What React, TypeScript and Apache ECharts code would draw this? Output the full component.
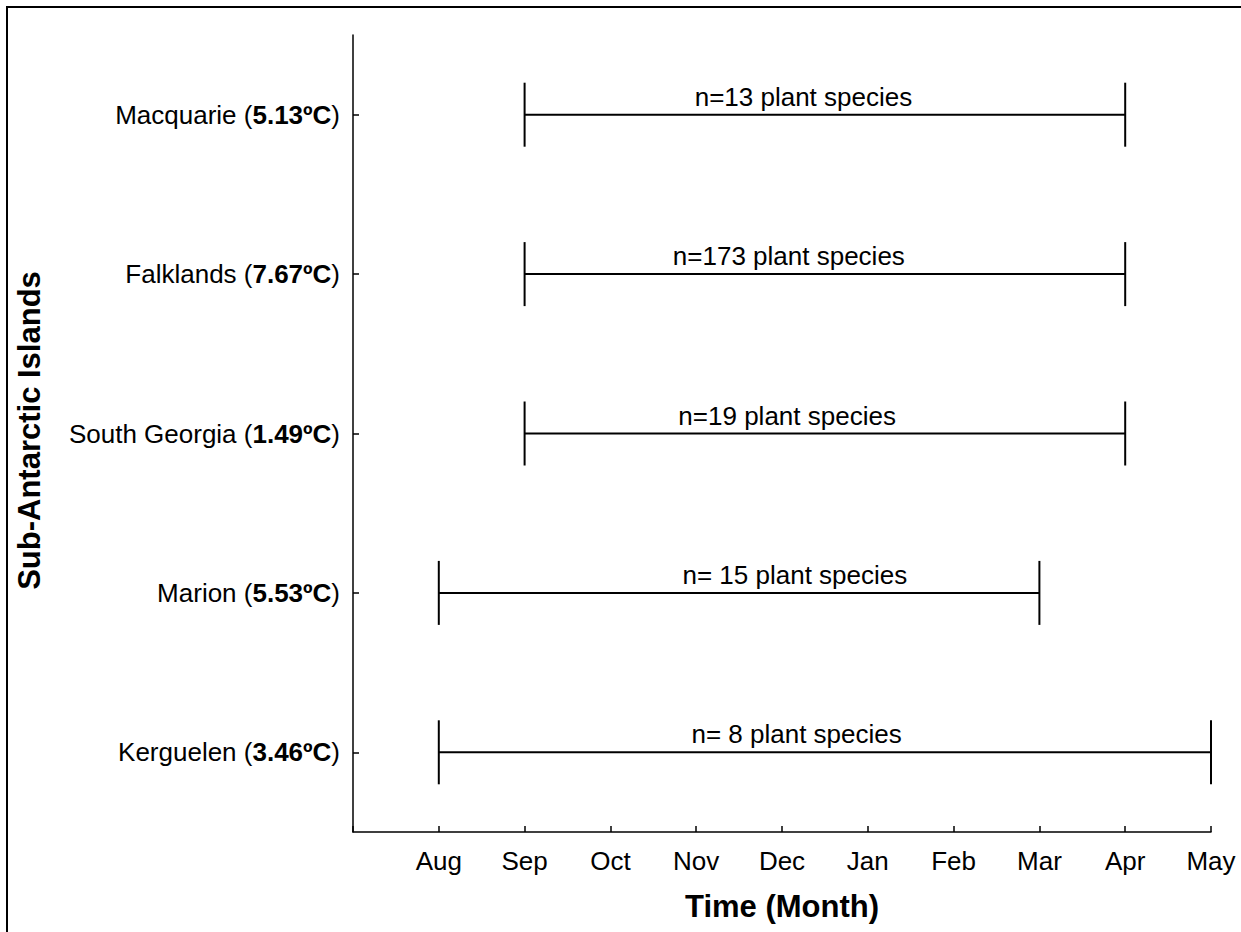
import React, { useEffect, useRef } from "react";
import * as echarts from "echarts";

const islands = ["Macquarie", "Falklands", "South Georgia", "Marion", "Kerguelen"];
const temperatures = ["5.13", "7.67", "1.49", "5.53", "3.46"];
const monthLabels = ["Jul", "Aug", "Sep", "Oct", "Nov", "Dec", "Jan", "Feb", "Mar", "Apr", "May"];
// start / end in month index (Jul = 0)
const startMonth = [2, 2, 2, 1, 1];
const endMonth = [9, 9, 9, 8, 10];
const speciesLabels = [
  "n=13 plant species",
  "n=173 plant species",
  "n=19 plant species",
  "n= 15 plant species",
  "n= 8 plant species",
];
const labelCenter = [5.25, 5.08, 5.06, 5.15, 5.17];

const FONT = "'Liberation Sans', Arial, Helvetica, sans-serif";

export default function App() {
  const ref = useRef<HTMLDivElement>(null);
  useEffect(() => {
    if (!ref.current) return;
    const chart = echarts.init(ref.current, null, { renderer: "svg" });
    const data = islands.map((_, i) => [i, startMonth[i], endMonth[i], labelCenter[i]]);
    chart.setOption({
      animation: false,
      backgroundColor: "#fff",
      textStyle: { fontFamily: FONT, color: "#000" },
      graphic: [
        {
          type: "rect",
          shape: { x: 7, y: 7, width: 1400, height: 1100 },
          style: { fill: "none", stroke: "#000", lineWidth: 2 },
          silent: true,
        },
      ],
      grid: { left: 353, right: 30, top: 35, bottom: 100, containLabel: false },
      xAxis: {
        type: "value",
        min: 0,
        max: 10,
        interval: 1,
        name: "Time (Month)",
        nameLocation: "middle",
        nameGap: 59,
        nameTextStyle: { fontFamily: FONT, fontSize: 31, fontWeight: "bold", color: "#000" },
        axisLine: { show: true, lineStyle: { color: "#000", width: 1.5 } },
        axisTick: { show: true, inside: true, length: 6, lineStyle: { color: "#000", width: 1.5 } },
        axisLabel: {
          fontFamily: FONT,
          fontSize: 26,
          color: "#000",
          margin: 16,
          formatter: (v: number) => (v === 0 ? "" : monthLabels[v] ?? ""),
        },
        splitLine: { show: false },
      },
      yAxis: {
        type: "category",
        data: islands,
        inverse: true,
        name: "Sub-Antarctic Islands",
        nameLocation: "middle",
        nameRotate: 90,
        nameGap: 308,
        nameTextStyle: { fontFamily: FONT, fontSize: 31, fontWeight: "bold", color: "#000", padding: [0, 0, 0, 6] },
        axisLine: { show: true, lineStyle: { color: "#000", width: 1.5 } },
        axisTick: { show: true, inside: true, length: 6, alignWithLabel: true, lineStyle: { color: "#000", width: 1.5 } },
        axisLabel: {
          margin: 13,
          color: "#000",
          formatter: (_: string, idx: number) => `{r|${islands[idx]} (}{b|${temperatures[idx]}ºC}{r|)}`,
          rich: {
            r: { fontFamily: FONT, fontSize: 26, color: "#000" },
            b: { fontFamily: FONT, fontSize: 26, fontWeight: "bold", color: "#000" },
          },
        },
        splitLine: { show: false },
      },
      series: [
        {
          type: "custom",
          data,
          encode: { x: [1, 2, 3], y: 0 },
          renderItem: (params: any, api: any) => {
            const cat = api.value(0);
            const s = api.coord([api.value(1), cat]);
            const e = api.coord([api.value(2), cat]);
            const l = api.coord([api.value(3), cat]);
            const h = 32;
            const ls = { stroke: "#000", lineWidth: 2 };
            return {
              type: "group",
              children: [
                { type: "line", shape: { x1: s[0], y1: s[1], x2: e[0], y2: e[1] }, style: ls },
                { type: "line", shape: { x1: s[0], y1: s[1] - h, x2: s[0], y2: s[1] + h }, style: ls },
                { type: "line", shape: { x1: e[0], y1: e[1] - h, x2: e[0], y2: e[1] + h }, style: ls },
                {
                  type: "text",
                  style: {
                    text: speciesLabels[params.dataIndex],
                    x: l[0],
                    y: l[1] - 18,
                    align: "center",
                    verticalAlign: "middle",
                    fontFamily: FONT,
                    fontSize: 26,
                    fill: "#000",
                  },
                },
              ],
            };
          },
        },
      ],
    });
    return () => chart.dispose();
  }, []);
  return (
    <div
      ref={ref}
      style={{ position: "fixed", left: 0, top: 0, width: 1241, height: 932 }}
    />
  );
}
